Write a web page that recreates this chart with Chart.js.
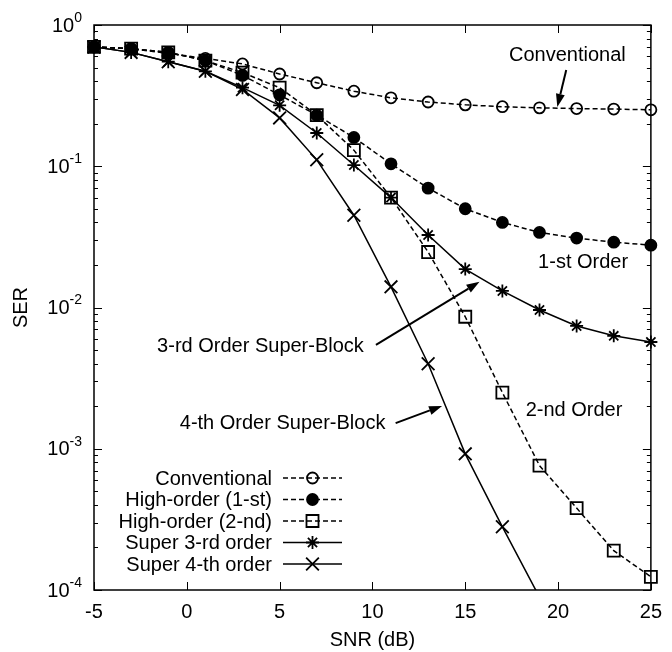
<!DOCTYPE html>
<html>
<head>
<meta charset="utf-8">
<script src="https://cdn.jsdelivr.net/npm/chart.js@4.4.0/dist/chart.umd.min.js"></script>
<style>
  html, body { margin: 0; padding: 0; background: #fff; }
</style>
</head>
<body>
<canvas id="ser-chart" width="672" height="652"></canvas>
<script>
// SER vs SNR curves
const snr = [-5, -3, -1, 1, 3, 5, 7, 9, 11, 13, 15, 17, 19, 21, 23, 25];
const conventional = [0.70, 0.68, 0.63, 0.58, 0.53, 0.45, 0.39, 0.34, 0.305, 0.285, 0.272, 0.264, 0.259, 0.256, 0.254, 0.251];
const highOrder1 = [0.70, 0.68, 0.64, 0.56, 0.44, 0.32, 0.23, 0.16, 0.104, 0.070, 0.050, 0.040, 0.034, 0.031, 0.029, 0.0276];
const highOrder2 = [0.70, 0.68, 0.64, 0.56, 0.46, 0.36, 0.23, 0.13, 0.060, 0.0247, 0.0086, 0.0025, 0.00076, 0.00038, 0.00019, 0.000124];
const super3 = [0.70, 0.64, 0.55, 0.47, 0.36, 0.27, 0.172, 0.102, 0.060, 0.0326, 0.0187, 0.0131, 0.0096, 0.0074, 0.0063, 0.0057];
const super4 = [0.70, 0.64, 0.55, 0.47, 0.35, 0.22, 0.111, 0.045, 0.014, 0.0040, 0.00092, 0.00028, 0.000089];

const xTicks = [-5, 0, 5, 10, 15, 20, 25];
const yDecades = [-4, -3, -2, -1, 0];

const legendNames = ['Conventional', 'High-order (1-st)', 'High-order (2-nd)', 'Super 3-rd order', 'Super 4-th order'];

// text notes and arrows, in data coordinates (SNR, SER)
const notes = [
    { text: 'Conventional', x: 20.5, y: 0.61, align: 'center' },
    { text: '1-st Order', x: 21.35, y: 0.021, align: 'center' },
    { text: '3-rd Order Super-Block', x: -1.6, y: 0.0053, align: 'left' },
    { text: '2-nd Order', x: 20.86, y: 0.00188, align: 'center' },
    { text: '4-th Order Super-Block', x: -0.38, y: 0.0015, align: 'left' }
];
const arrows = [
    { from: [20.44, 0.48], to: [19.96, 0.263] },
    { from: [10.19, 0.00543], to: [15.77, 0.0152] },
    { from: [11.25, 0.00152], to: [13.75, 0.00201] }
];

const FONT = "'Liberation Sans', Arial, sans-serif";
Chart.defaults.font.family = FONT;
Chart.defaults.color = '#000';

function toPoints(values) {
    return values.map((v, i) => ({ x: snr[i], y: v }));
}

function series(label, values, pointStyle, radius, dashed, filled) {
    return {
        label: label,
        data: toPoints(values),
        borderColor: '#000',
        borderWidth: 1.5,
        borderDash: dashed ? [5, 3] : [],
        pointStyle: pointStyle,
        pointRadius: radius,
        pointBorderWidth: 1.8,
        pointBorderColor: '#000',
        pointBackgroundColor: filled ? '#000' : 'rgba(0,0,0,0)',
        tension: 0,
        clip: { left: 10, top: 10, right: 10, bottom: 0 }
    };
}

const datasets = [
    series(legendNames[0], conventional, 'circle', 5.5, true, false),
    series(legendNames[1], highOrder1, 'circle', 5.5, true, true),
    series(legendNames[2], highOrder2, 'rect', 8.5, true, false),
    series(legendNames[3], super3, 'star', 6.5, false, false),
    series(legendNames[4], super4, 'crossRot', 9, false, false)
];

function drawArrow(ctx, x1, y1, x2, y2) {
    const ang = Math.atan2(y2 - y1, x2 - x1);
    const head = 13, half = 4.5;
    const bx = x2 - head * Math.cos(ang), by = y2 - head * Math.sin(ang);
    ctx.beginPath();
    ctx.moveTo(x1, y1);
    ctx.lineTo(bx, by);
    ctx.stroke();
    ctx.beginPath();
    ctx.moveTo(x2, y2);
    ctx.lineTo(bx - half * Math.sin(ang), by + half * Math.cos(ang));
    ctx.lineTo(bx + half * Math.sin(ang), by - half * Math.cos(ang));
    ctx.closePath();
    ctx.fill();
}

const framePlugin = {
    id: 'frame',
    afterDraw(chart) {
        const ctx = chart.ctx;
        const { left, right, top, bottom } = chart.chartArea;
        const xs = chart.scales.x, ys = chart.scales.y;
        ctx.save();
        ctx.strokeStyle = '#000';
        ctx.fillStyle = '#000';
        ctx.setLineDash([]);

        // box
        ctx.lineWidth = 1.5;
        ctx.strokeRect(left, top, right - left, bottom - top);

        // inward ticks
        ctx.lineWidth = 1;
        ctx.beginPath();
        xTicks.forEach(v => {
            const px = Math.round(xs.getPixelForValue(v)) + 0.5;
            ctx.moveTo(px, bottom); ctx.lineTo(px, bottom - 8);
            ctx.moveTo(px, top); ctx.lineTo(px, top + 8);
        });
        yDecades.forEach(d => {
            for (let m = 1; m <= 9; m++) {
                const val = m * Math.pow(10, d);
                if (val > 1.0001) break;
                const py = Math.round(ys.getPixelForValue(val)) + 0.5;
                const len = m === 1 ? 8 : 4;
                ctx.moveTo(left, py); ctx.lineTo(left + len, py);
                ctx.moveTo(right, py); ctx.lineTo(right - len, py);
            }
        });
        ctx.stroke();

        // y tick labels 10^n
        yDecades.forEach(d => {
            const py = ys.getPixelForValue(Math.pow(10, d));
            const sup = String(d);
            ctx.font = '14px ' + FONT;
            const sw = ctx.measureText(sup).width;
            const edge = left - 12;
            ctx.textBaseline = 'middle';
            ctx.textAlign = 'left';
            ctx.fillText(sup, edge - sw, py - 7);
            ctx.font = '20px ' + FONT;
            ctx.textAlign = 'right';
            ctx.fillText('10', edge - sw, py + 1);
        });

        // notes and arrows
        ctx.font = '20px ' + FONT;
        ctx.textBaseline = 'middle';
        notes.forEach(n => {
            ctx.textAlign = n.align;
            ctx.fillText(n.text, xs.getPixelForValue(n.x), ys.getPixelForValue(n.y));
        });
        ctx.lineWidth = 2;
        arrows.forEach(a => {
            drawArrow(ctx,
                xs.getPixelForValue(a.from[0]), ys.getPixelForValue(a.from[1]),
                xs.getPixelForValue(a.to[0]), ys.getPixelForValue(a.to[1]));
        });

        // legend, bottom-left inside the plot
        const textRight = left + 178, lineL = left + 189, lineR = left + 248;
        const rowTop = bottom - 112, rowStep = 21.5;
        chart.data.datasets.forEach((ds, i) => {
            const y = rowTop + i * rowStep;
            ctx.font = '20px ' + FONT;
            ctx.textAlign = 'right';
            ctx.textBaseline = 'middle';
            ctx.fillText(ds.label, textRight, y + 1);
            ctx.lineWidth = ds.borderWidth;
            ctx.setLineDash(ds.borderDash);
            ctx.beginPath();
            ctx.moveTo(lineL, y); ctx.lineTo(lineR, y);
            ctx.stroke();
            ctx.setLineDash([]);
            ctx.lineWidth = ds.pointBorderWidth;
            ctx.fillStyle = ds.pointBackgroundColor;
            Chart.helpers.drawPoint(ctx, {
                pointStyle: ds.pointStyle, radius: ds.pointRadius,
                borderWidth: ds.pointBorderWidth, rotation: 0
            }, (lineL + lineR) / 2, y);
            ctx.fillStyle = '#000';
        });
        ctx.restore();
    }
};

new Chart(document.getElementById('ser-chart').getContext('2d'), {
    type: 'line',
    data: { datasets: datasets },
    options: {
        responsive: false,
        animation: false,
        layout: { padding: { top: 25, right: 13, left: 0, bottom: 0 } },
        plugins: { legend: { display: false }, tooltip: { enabled: false } },
        scales: {
            x: {
                type: 'linear',
                min: -5,
                max: 25,
                afterBuildTicks: s => { s.ticks = xTicks.map(v => ({ value: v })); },
                ticks: { font: { size: 20 }, color: '#000', padding: 10, maxRotation: 0 },
                grid: { display: false, drawTicks: false },
                border: { display: false },
                title: { display: true, text: 'SNR (dB)', font: { size: 20 }, color: '#000', padding: { top: 0, bottom: 0 } },
                afterFit: s => { s.height = 62; }
            },
            y: {
                type: 'logarithmic',
                min: 1e-4,
                max: 1,
                ticks: { display: false },
                grid: { display: false, drawTicks: false },
                border: { display: false },
                title: { display: true, text: 'SER', font: { size: 20 }, color: '#000', padding: { top: 9, bottom: 0 } },
                afterFit: s => { s.width = 94; }
            }
        }
    },
    plugins: [framePlugin]
});
</script>
</body>
</html>
